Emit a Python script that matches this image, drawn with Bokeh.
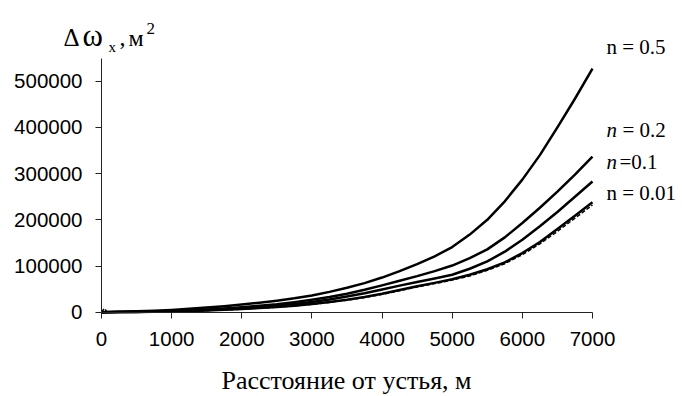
from bokeh.plotting import figure
from bokeh.models import Range1d, Label, FixedTicker
from bokeh.embed import file_html
from bokeh.resources import INLINE

# distance from river mouth, m
dist = [0, 250, 500, 750, 1000, 1250, 1500, 1750, 2000, 2250, 2500, 2750, 3000, 3250, 3500,
        3750, 4000, 4250, 4500, 4750, 5000, 5250, 5500, 5750, 6000, 6250, 6500, 6750, 7000]
# channel area change, m^2, for several n
n05 = [0, 800, 2000, 3300, 5000, 7300, 10000, 13000, 16500, 20500, 25000, 30000, 36000, 44000, 53000,
       63000, 75000, 89000, 104000, 121000, 141000, 168000, 200000, 240000, 287000, 340000, 400000, 462000, 527000]
n02 = [0, 400, 900, 1700, 2800, 4200, 6000, 8200, 10800, 13800, 17300, 21800, 27000, 33000, 40000,
       48500, 58000, 68000, 78000, 89000, 101000, 117000, 136000, 162000, 193000, 226000, 261000, 298000, 337000]
n01 = [0, 300, 700, 1300, 2200, 3300, 4700, 6400, 8500, 11000, 14000, 17800, 22000, 27500, 34000,
       41000, 49000, 57500, 65500, 73000, 81000, 94000, 110000, 131000, 157000, 186000, 217000, 250000, 283000]
n001 = [0, 250, 600, 1100, 1800, 2700, 3800, 5200, 6900, 8900, 11300, 14200, 17800, 22000, 27000,
        33000, 40000, 48000, 56000, 63500, 71500, 81000, 93000, 108000, 128000, 152000, 180000, 209000, 238000]
dist0 = [0, 40, 80, 250, 500, 750, 1000, 1250, 1500, 1750, 2000, 2250, 2500, 2750, 3000, 3250, 3500,
         3750, 4000, 4250, 4500, 4750, 5000, 5250, 5500, 5750, 6000, 6250, 6500, 6750, 7000]
n0 = [0, 8000, 500, 250, 550, 1000, 1700, 2600, 3600, 5000, 6600, 8500, 10800, 13700, 17200, 21200, 26000,
      31800, 38600, 46500, 54500, 62000, 69500, 78500, 90500, 105000, 124500, 148000, 175000, 203500, 232000]

x_ticks = [0, 1000, 2000, 3000, 4000, 5000, 6000, 7000]
y_ticks = [0, 100000, 200000, 300000, 400000, 500000]

W, H = 682, 396
# pixel geometry of the reference axes
X0_PX, PX_PER_X = 101.0, 0.07014      # x=0 at px 101, 70.14 px per 1000 m
Y0_PX, PX_PER_Y = 311.7, 0.000462     # y=0 at px 311.7, 46.2 px per 100000

x_start = -X0_PX / PX_PER_X
x_end = (W - X0_PX) / PX_PER_X
y_end = Y0_PX / PX_PER_Y
y_start = -(H - Y0_PX) / PX_PER_Y

p = figure(width=W, height=H, output_backend="svg", toolbar_location=None,
           x_range=Range1d(x_start, x_end), y_range=Range1d(y_start, y_end),
           min_border=0, min_border_left=0, min_border_right=0,
           min_border_top=0, min_border_bottom=0)
p.outline_line_color = None
p.xgrid.grid_line_color = None
p.ygrid.grid_line_color = None
p.background_fill_color = "white"
p.border_fill_color = "white"

for ax in (p.xaxis[0], p.yaxis[0]):
    ax.fixed_location = 0
    ax.axis_line_color = "#222222"
    ax.axis_line_width = 1
    ax.major_tick_line_color = "#222222"
    ax.major_tick_in = 0
    ax.major_tick_out = 6
    ax.minor_tick_line_color = None
    ax.major_label_text_font = "Liberation Sans"
    ax.major_label_text_font_size = "20.5px"
    ax.major_label_text_color = "black"

p.xaxis.ticker = FixedTicker(ticks=x_ticks)
p.yaxis.ticker = FixedTicker(ticks=y_ticks)
p.xaxis.bounds = (x_ticks[0], x_ticks[-1])
p.yaxis.bounds = (0, 550000)
p.yaxis.major_label_standoff = 13
p.xaxis.major_label_standoff = 14
p.yaxis.formatter.use_scientific = False

for ys in (n05, n02, n01, n001):
    p.line(dist, ys, line_color="black", line_width=2.5, line_join="round")
p.line(dist0, n0, line_color="black", line_width=1.5, line_dash="4 2")


def dx(px):
    return (px - X0_PX) / PX_PER_X


def dy(py):
    return (Y0_PX - py) / PX_PER_Y


def lab(px, py, text, size, style="normal", font="Liberation Serif", align="left"):
    # py is the wanted baseline; Bokeh draws the glyph baseline about 0.25em lower
    p.add_layout(Label(x=dx(px), y=dy(py - 0.25 * size), text=text, text_font=font,
                       text_font_size=f"{size}px", text_font_style=style,
                       text_align=align, text_baseline="alphabetic", text_color="black"))


# curve labels
lab(606, 52, "n = 0.5", 21)
lab(606, 135, "n", 21, "italic")
lab(622, 135, "= 0.2", 21)
lab(606, 167, "n", 21, "italic")
lab(619, 167, "=0.1", 21)
lab(606, 198, "n = 0.01", 21)

# y axis title
lab(63, 43, "\u0394", 25)
lab(82, 43, "\u03c9", 31)
lab(108, 50, "x", 15)
lab(119, 43, ",", 24)
lab(128, 43, "\u043c", 24)
lab(146, 32, "2", 17)

# x axis title
lab(346, 386, "\u0420\u0430\u0441\u0441\u0442\u043e\u044f\u043d\u0438\u0435 \u043e\u0442 \u0443\u0441\u0442\u044c\u044f, \u043c",
    26, align="center")

open("out.html", "w").write(file_html(p, INLINE))
